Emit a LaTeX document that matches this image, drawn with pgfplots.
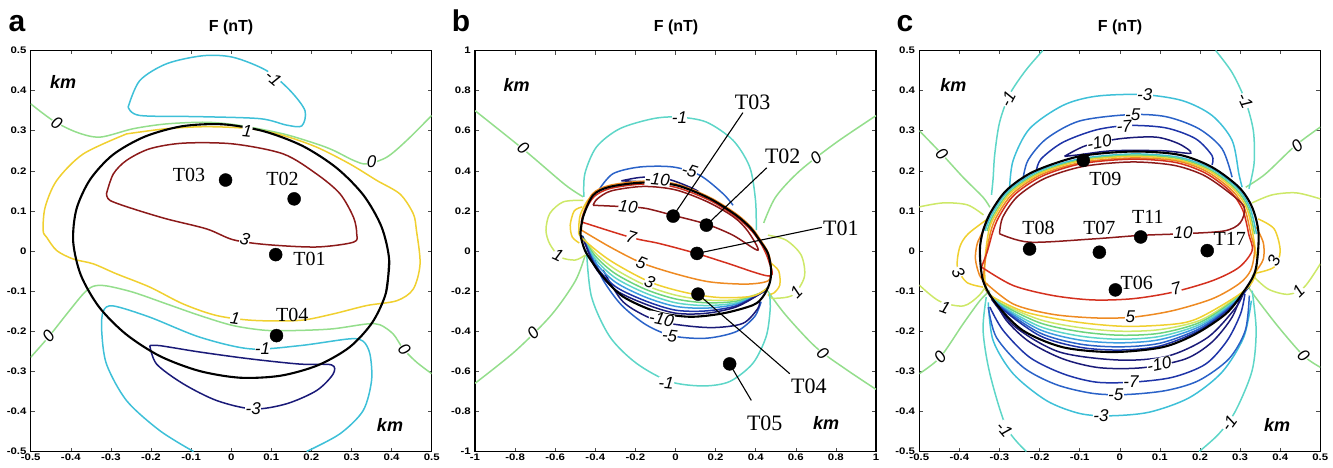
\documentclass[border=0pt]{standalone}
\usepackage{pgfplots}
\pgfplotsset{compat=1.18}
\usepackage{fontspec}
\setmainfont{Liberation Serif}
\setsansfont{Liberation Sans}
\definecolor{cnavy}{HTML}{1A1A78}
\definecolor{cblue}{HTML}{2A62C8}
\definecolor{cmblue}{HTML}{1E34A8}
\definecolor{clblue}{HTML}{3C9CE0}
\definecolor{ccyan}{HTML}{3EC0D8}
\definecolor{cteal}{HTML}{5ED6C8}
\definecolor{cgreen}{HTML}{94DE8C}
\definecolor{cmgreen}{HTML}{6CD47C}
\definecolor{cyg}{HTML}{CDE868}
\definecolor{cyellow}{HTML}{F0D030}
\definecolor{corange}{HTML}{EE8A22}
\definecolor{cred}{HTML}{D4301E}
\definecolor{cdred}{HTML}{8C1A1A}
\pgfplotsset{
  panel/.style={scale only axis, width=401pt, height=401pt, anchor=south west,
    axis line style={line width=1.4pt}, tick align=inside, major tick length=4pt,
    tick style={black!70, line width=0.6pt},
    tick label style={font=\fontsize{9.5}{10}\selectfont\sffamily\bfseries, xscale=1.2},
    xticklabel style={yshift=1pt}},
  cl/.style={line width=1.5pt, smooth},
  bl/.style={line width=2.1pt, smooth, black},
  dot/.style={only marks, mark=*, mark size=6.5pt, black},
  lead/.style={line width=1.1pt, black},
}
\newcommand{\clab}[4][0]{\node[font=\fontsize{17}{17}\selectfont\sffamily\itshape, fill=white, inner sep=0.3pt, rotate=#1] at (axis cs:#2,#3) {#4};}
\newcommand{\tlab}[4][20]{\node[font=\fontsize{#1}{#1}\selectfont\rmfamily] at (axis cs:#2,#3) {#4};}
\newcommand{\km}[2]{\node[font=\fontsize{18}{18}\selectfont\sffamily\bfseries\itshape] at (axis cs:#1,#2) {km};}
\begin{document}
\begin{tikzpicture}
\useasboundingbox (0,0) rectangle (1333pt,467pt);
% ===================== panel a =====================
\begin{axis}[panel, at={(30.7pt,15.5pt)}, xmin=-0.5, xmax=0.5, ymin=-0.5, ymax=0.5,
  xtick={-0.5,-0.4,-0.3,-0.2,-0.1,0,0.1,0.2,0.3,0.4,0.5},
  ytick={-0.5,-0.4,-0.3,-0.2,-0.1,0,0.1,0.2,0.3,0.4,0.5},
  xticklabels={-0.5,-0.4,-0.3,-0.2,-0.1,0,0.1,0.2,0.3,0.4,0.5},
  yticklabels={-0.5,-0.4,-0.3,-0.2,-0.1,0,0.1,0.2,0.3,0.4,0.5}]
% -1 top loop
\addplot[cl, ccyan] coordinates {(-0.257,0.359) (-0.228,0.425) (-0.161,0.467) (-0.070,0.487) (0.005,0.483) (0.088,0.450) (0.147,0.400) (0.184,0.350) (0.176,0.312) (0.138,0.314) (0.072,0.330) (-0.078,0.335) (-0.228,0.338) (-0.257,0.359)};
% 0 top
\addplot[cl, cgreen] coordinates {(-0.5,0.367) (-0.444,0.325) (-0.385,0.296) (-0.327,0.284) (-0.244,0.305) (-0.161,0.317) (-0.061,0.321) (0.022,0.313) (0.130,0.292) (0.213,0.267) (0.255,0.251) (0.305,0.226) (0.338,0.217) (0.388,0.234) (0.438,0.276) (0.5,0.338)};
% 1 loop
\addplot[cl, cyellow] coordinates {(-0.261,0.292) (-0.369,0.242) (-0.435,0.176) (-0.464,0.109) (-0.469,0.051) (-0.460,0.034) (-0.435,0.001) (-0.394,-0.020) (-0.344,-0.032) (-0.286,-0.057) (-0.203,-0.090) (-0.120,-0.132) (-0.036,-0.161) (0.055,-0.173) (0.171,-0.173) (0.254,-0.157) (0.338,-0.136) (0.413,-0.124) (0.454,-0.095) (0.471,-0.032) (0.462,0.051) (0.454,0.093) (0.421,0.142) (0.363,0.176) (0.296,0.217) (0.213,0.259) (0.130,0.288) (0.047,0.305) (-0.061,0.310) (-0.161,0.305) (-0.261,0.292)};
% 3 loop
\addplot[cl, cdred] coordinates {(-0.311,0.143) (-0.294,0.192) (-0.261,0.226) (-0.203,0.255) (-0.119,0.269) (0.005,0.267) (0.130,0.242) (0.213,0.192) (0.271,0.143) (0.305,0.084) (0.313,0.043) (0.305,0.022) (0.213,0.010) (0.088,0.016) (0.005,0.028) (-0.061,0.055) (-0.161,0.080) (-0.244,0.105) (-0.302,0.126) (-0.311,0.143)};
% 0 lower
\addplot[cl, cgreen] coordinates {(-0.5,-0.265) (-0.456,-0.215) (-0.410,-0.157) (-0.369,-0.107) (-0.344,-0.088) (-0.311,-0.087) (-0.244,-0.103) (-0.161,-0.132) (-0.078,-0.161) (0.005,-0.186) (0.088,-0.198) (0.171,-0.198) (0.254,-0.194) (0.338,-0.182) (0.371,-0.184) (0.404,-0.207) (0.429,-0.244) (0.462,-0.277) (0.5,-0.306)};
% -1 lower
\addplot[cl, ccyan] coordinates {(-0.094,-0.5) (-0.178,-0.448) (-0.261,-0.373) (-0.311,-0.282) (-0.323,-0.198) (-0.319,-0.150) (-0.294,-0.137) (-0.203,-0.165) (-0.078,-0.215) (0.047,-0.244) (0.171,-0.236) (0.296,-0.219) (0.329,-0.225) (0.346,-0.257) (0.350,-0.323) (0.329,-0.398) (0.271,-0.456) (0.188,-0.5)};
% -3 loop
\addplot[cl, cnavy] coordinates {(-0.203,-0.236) (-0.186,-0.282) (-0.120,-0.331) (-0.036,-0.373) (0.055,-0.394) (0.138,-0.381) (0.213,-0.348) (0.254,-0.307) (0.250,-0.284) (0.171,-0.282) (0.047,-0.269) (-0.078,-0.252) (-0.178,-0.236) (-0.203,-0.236)};
% body outline
\addplot[bl] coordinates {(0.386,-0.104) (0.394,-0.023) (0.375,0.060) (0.330,0.139) (0.263,0.207) (0.178,0.262) (0.080,0.299) (-0.022,0.316) (-0.123,0.311) (-0.216,0.285) (-0.295,0.240) (-0.352,0.178) (-0.386,0.104) (-0.394,0.023) (-0.375,-0.060) (-0.330,-0.139) (-0.263,-0.207) (-0.178,-0.262) (-0.080,-0.299) (0.022,-0.316) (0.123,-0.311) (0.216,-0.285) (0.295,-0.240) (0.352,-0.178) (0.386,-0.104) (0.394,-0.023)};
\addplot[dot] coordinates {(-0.014,0.177) (0.157,0.130) (0.111,-0.009) (0.113,-0.211)};
\clab[-40]{0.105}{0.432}{-1}
\clab[-32]{-0.435}{0.320}{0}
\clab[-6]{0.040}{0.300}{1}
\clab{0.350}{0.222}{0}
\clab[-15]{0.034}{0.030}{3}
\clab[50]{-0.456}{-0.212}{0}
\clab[-8]{0.010}{-0.167}{1}
\clab{0.078}{-0.244}{-1}
\clab[-50]{0.432}{-0.245}{0}
\clab{0.055}{-0.393}{-3}
\tlab{-0.105}{0.190}{T03}
\tlab{0.128}{0.180}{T02}
\tlab{0.195}{-0.020}{T01}
\tlab{0.152}{-0.160}{T04}
\km{-0.419}{0.421}
\km{0.396}{-0.435}
\end{axis}
% ===================== panel b =====================
\begin{axis}[panel, at={(475pt,15.5pt)}, xmin=-1, xmax=1, ymin=-1, ymax=1,
  xtick={-1,-0.8,-0.6,-0.4,-0.2,0,0.2,0.4,0.6,0.8,1},
  ytick={-1,-0.8,-0.6,-0.4,-0.2,0,0.2,0.4,0.6,0.8,1},
  xticklabels={-1,-0.8,-0.6,-0.4,-0.2,0,0.2,0.4,0.6,0.8,1},
  yticklabels={-1,-0.8,-0.6,-0.4,-0.2,0,0.2,0.4,0.6,0.8,1}]
% 0 lines
\addplot[cl, cgreen] coordinates {(-1,0.70) (-0.75,0.50) (-0.55,0.33) (-0.46,0.27)};
\addplot[cl, cgreen] coordinates {(1,0.675) (0.80,0.54) (0.62,0.40) (0.50,0.27) (0.44,0.14)};
\addplot[cl, cgreen] coordinates {(-1,-0.66) (-0.80,-0.50) (-0.62,-0.32) (-0.50,-0.15) (-0.45,-0.02)};
\addplot[cl, cgreen] coordinates {(0.46,-0.20) (0.55,-0.32) (0.70,-0.48) (0.85,-0.59) (1,-0.69)};
% 1 lobes
\addplot[cl, cyg] coordinates {(-0.460,0.253) (-0.560,0.245) (-0.627,0.187) (-0.646,0.104) (-0.627,0.035) (-0.575,-0.030) (-0.50,-0.045) (-0.45,-0.020)};
\addplot[cl, cyg] coordinates {(0.461,0.079) (0.552,0.054) (0.627,-0.021) (0.643,-0.128) (0.585,-0.220) (0.486,-0.236) (0.465,-0.220)};
\addplot[cl, cyellow] coordinates {(-0.465,0.22) (-0.505,0.20) (-0.525,0.13) (-0.515,0.07) (-0.48,0.04)};
\addplot[cl, cyellow] coordinates {(0.475,-0.06) (0.515,-0.10) (0.52,-0.17) (0.49,-0.21) (0.46,-0.22)};
% -1
\addplot[cl, cteal] coordinates {(-0.457,0.270) (-0.452,0.386) (-0.394,0.519) (-0.278,0.610) (-0.112,0.660) (0.013,0.668) (0.154,0.643) (0.287,0.552) (0.370,0.419) (0.399,0.253) (0.403,0.104)};
\addplot[cl, cteal] coordinates {(-0.444,0.004) (-0.419,-0.228) (-0.328,-0.427) (-0.195,-0.560) (-0.029,-0.651) (0.137,-0.673) (0.270,-0.651) (0.386,-0.560) (0.452,-0.427) (0.472,-0.294) (0.469,-0.211)};
% -5
\addplot[cl, cblue] coordinates {(-0.378,0.311) (-0.311,0.386) (-0.178,0.419) (-0.012,0.419) (0.121,0.378) (0.237,0.286) (0.287,0.228)};
\addplot[cl, cblue] coordinates {(-0.402,-0.045) (-0.361,-0.145) (-0.270,-0.269) (-0.145,-0.369) (-0.012,-0.424) (0.154,-0.435) (0.303,-0.402) (0.394,-0.328) (0.427,-0.253)};
% -10
\addplot[cl, cnavy] coordinates {(-0.270,0.350) (-0.162,0.368) (-0.029,0.356) (0.104,0.303) (-0.029,0.338) (-0.162,0.345) (-0.270,0.350)};
\addplot[cl, cnavy] coordinates {(-0.361,-0.095) (-0.262,-0.253) (-0.112,-0.341) (0.021,-0.369) (0.187,-0.382) (0.336,-0.361) (0.411,-0.286) (0.419,-0.245)};
% interior band
\addplot[cl, cyg] coordinates {(-0.465,0.075) (-0.40,-0.010) (-0.30,-0.091) (-0.15,-0.171) (0,-0.220) (0.15,-0.244) (0.30,-0.243) (0.42,-0.211) (0.46,-0.185)};
\addplot[cl, cmgreen] coordinates {(-0.465,0.075) (-0.40,-0.025) (-0.30,-0.113) (-0.15,-0.191) (0,-0.239) (0.15,-0.258) (0.30,-0.251) (0.42,-0.212) (0.46,-0.185)};
\addplot[cl, cteal] coordinates {(-0.465,0.075) (-0.40,-0.040) (-0.30,-0.134) (-0.15,-0.210) (0,-0.258) (0.15,-0.272) (0.30,-0.259) (0.42,-0.213) (0.46,-0.185)};
\addplot[cl, clblue] coordinates {(-0.465,0.075) (-0.40,-0.055) (-0.30,-0.155) (-0.15,-0.230) (0,-0.276) (0.15,-0.285) (0.30,-0.266) (0.42,-0.213) (0.46,-0.185)};
\addplot[cl, cmblue] coordinates {(-0.465,0.075) (-0.40,-0.070) (-0.30,-0.177) (-0.15,-0.249) (0,-0.295) (0.15,-0.299) (0.30,-0.274) (0.42,-0.214) (0.46,-0.185)};
\addplot[cl, cnavy] coordinates {(-0.465,0.075) (-0.40,-0.082) (-0.30,-0.194) (-0.15,-0.265) (0,-0.310) (0.15,-0.311) (0.30,-0.280) (0.42,-0.215) (0.46,-0.185)};
% 3
\addplot[cl, cyellow] coordinates {(-0.40,0.29) (-0.44,0.25) (-0.475,0.18) (-0.482,0.11) (-0.469,0.067) (-0.328,-0.046) (-0.129,-0.154) (0.054,-0.208) (0.220,-0.232) (0.386,-0.225) (0.461,-0.182)};
% 5
\addplot[cl, corange] coordinates {(-0.469,0.104) (-0.328,0.021) (-0.170,-0.059) (0.004,-0.115) (0.170,-0.154) (0.353,-0.165) (0.461,-0.149) (0.478,-0.095) (0.464,-0.012) (0.422,0.058) (0.380,0.116) (0.306,0.183) (0.172,0.267) (0.004,0.334) (-0.162,0.348) (-0.330,0.327) (-0.415,0.284) (-0.464,0.175) (-0.469,0.104)};
% 7
\addplot[cl, cred] coordinates {(-0.469,0.145) (-0.220,0.067) (-0.079,0.037) (0.104,-0.012) (0.253,-0.059) (0.469,-0.125) (0.465,-0.05) (0.43,0.03) (0.38,0.10) (0.30,0.172) (0.17,0.253) (0.0,0.318) (-0.16,0.334) (-0.325,0.312) (-0.405,0.272) (-0.452,0.20) (-0.469,0.145)};
% 10
\addplot[cl, cdred] coordinates {(-0.411,0.228) (-0.236,0.220) (-0.145,0.212) (-0.012,0.178) (0.154,0.134) (0.286,0.079) (0.411,0.004) (0.36,0.10) (0.29,0.17) (0.16,0.245) (0.0,0.305) (-0.16,0.322) (-0.32,0.30) (-0.39,0.26) (-0.411,0.228)};
% body outline
\addplot[bl] coordinates {(-0.474,0.087) (-0.461,0.170) (-0.411,0.278) (-0.328,0.320) (-0.162,0.341) (0.004,0.328) (0.170,0.262) (0.303,0.178) (0.377,0.112) (0.419,0.054) (0.461,-0.012) (0.477,-0.095) (0.469,-0.162) (0.436,-0.228) (0.386,-0.270) (0.237,-0.311) (0.071,-0.328) (-0.095,-0.303) (-0.261,-0.228) (-0.361,-0.129) (-0.411,-0.062) (-0.452,0.004) (-0.474,0.087) (-0.461,0.170)};
% leaders
\addplot[lead] coordinates {(-0.012,0.174) (0.336,0.690)};
\addplot[lead] coordinates {(0.154,0.129) (0.455,0.415)};
\addplot[lead] coordinates {(0.107,-0.012) (0.730,0.118)};
\addplot[lead] coordinates {(0.112,-0.215) (0.570,-0.612)};
\addplot[lead] coordinates {(0.270,-0.563) (0.378,-0.745)};
\addplot[dot] coordinates {(-0.012,0.174) (0.154,0.129) (0.107,-0.012) (0.112,-0.215) (0.270,-0.563)};
\clab[-39]{-0.76}{0.515}{0}
\clab[39]{0.70}{0.465}{0}
\clab[45]{-0.71}{-0.41}{0}
\clab[-42]{0.735}{-0.51}{0}
\clab{0.02}{0.666}{-1}
\clab[-17]{0.07}{0.40}{-5}
\clab[-5]{-0.09}{0.356}{-10}
\clab[-6]{-0.236}{0.220}{10}
\clab[-16]{-0.22}{0.068}{7}
\clab[-22]{-0.17}{-0.057}{5}
\clab[-23]{-0.129}{-0.152}{3}
\clab[-25]{-0.585}{-0.020}{1}
\clab[45]{0.602}{-0.203}{1}
\clab[-12]{-0.07}{-0.340}{-10}
\clab[-6]{-0.029}{-0.422}{-5}
\clab[-5]{-0.046}{-0.660}{-1}
\tlab[22]{0.385}{0.740}{T03}
\tlab[22]{0.535}{0.470}{T02}
\tlab[22]{0.825}{0.112}{T01}
\tlab[22]{0.665}{-0.676}{T04}
\tlab[22]{0.445}{-0.860}{T05}
\km{-0.793}{0.826}
\km{0.751}{-0.859}
\end{axis}
% ===================== panel c =====================
\begin{axis}[panel, at={(919.3pt,15.5pt)}, xmin=-0.5, xmax=0.5, ymin=-0.5, ymax=0.5,
  xtick={-0.5,-0.4,-0.3,-0.2,-0.1,0,0.1,0.2,0.3,0.4,0.5},
  ytick={-0.5,-0.4,-0.3,-0.2,-0.1,0,0.1,0.2,0.3,0.4,0.5},
  xticklabels={-0.5,-0.4,-0.3,-0.2,-0.1,0,0.1,0.2,0.3,0.4,0.5},
  yticklabels={-0.5,-0.4,-0.3,-0.2,-0.1,0,0.1,0.2,0.3,0.4,0.5}]
% 0
\addplot[cl, cgreen] coordinates {(-0.5,0.300) (-0.444,0.242) (-0.391,0.184) (-0.341,0.134) (-0.324,0.109)};
\addplot[cl, cgreen] coordinates {(0.5,0.309) (0.438,0.263) (0.363,0.192) (0.314,0.159)};
\addplot[cl, cgreen] coordinates {(-0.5,-0.306) (-0.448,-0.265) (-0.391,-0.182) (-0.349,-0.124) (-0.324,-0.099)};
\addplot[cl, cgreen] coordinates {(0.5,-0.290) (0.458,-0.261) (0.396,-0.190) (0.338,-0.115) (0.321,-0.090)};
% 1
\addplot[cl, cyg] coordinates {(-0.5,0.11) (-0.44,0.12) (-0.38,0.115) (-0.34,0.09)};
\addplot[cl, cyg] coordinates {(-0.5,-0.085) (-0.45,-0.125) (-0.39,-0.137) (-0.35,-0.11) (-0.33,-0.08)};
\addplot[cl, cyg] coordinates {(0.5,-0.032) (0.46,-0.09) (0.42,-0.108) (0.37,-0.095) (0.33,-0.06)};
\addplot[cl, cyg] coordinates {(0.5,0.13) (0.44,0.145) (0.38,0.14) (0.33,0.12)};
% 3 and 5 lobes
\addplot[cl, cyellow] coordinates {(-0.324,0.084) (-0.378,0.043) (-0.399,0.010) (-0.405,-0.040) (-0.382,-0.078) (-0.341,-0.090)};
\addplot[cl, cyellow] coordinates {(0.345,0.08) (0.385,0.055) (0.400,0.0) (0.385,-0.040) (0.340,-0.055)};
\addplot[cl, corange] coordinates {(-0.335,0.06) (-0.355,0.02) (-0.36,-0.02) (-0.35,-0.06) (-0.335,-0.08)};
\addplot[cl, corange] coordinates {(0.34,0.06) (0.358,0.02) (0.358,-0.02) (0.34,-0.05)};
% -1
\addplot[cl, cteal] coordinates {(-0.192,0.5) (-0.235,0.45) (-0.275,0.39) (-0.300,0.32) (-0.312,0.24) (-0.316,0.18) (-0.320,0.14)};
\addplot[cl, cteal] coordinates {(0.239,0.5) (0.28,0.445) (0.313,0.375) (0.333,0.30) (0.335,0.22) (0.322,0.155)};
\addplot[cl, cteal] coordinates {(-0.333,-0.115) (-0.341,-0.198) (-0.324,-0.306) (-0.283,-0.439) (-0.233,-0.5)};
\addplot[cl, cteal] coordinates {(0.330,-0.099) (0.340,-0.198) (0.330,-0.298) (0.289,-0.398) (0.247,-0.456) (0.198,-0.5)};
% -3
\addplot[cl, ccyan] coordinates {(-0.275,0.155) (-0.266,0.226) (-0.225,0.305) (-0.142,0.363) (-0.059,0.386) (0.057,0.390) (0.156,0.375) (0.230,0.338) (0.280,0.276) (0.297,0.192) (0.305,0.159)};
\addplot[cl, ccyan] coordinates {(-0.328,-0.128) (-0.316,-0.223) (-0.266,-0.306) (-0.183,-0.373) (-0.101,-0.405) (-0.026,-0.411) (0.073,-0.402) (0.173,-0.366) (0.255,-0.302) (0.309,-0.215) (0.328,-0.124)};
% -5
\addplot[cl, cblue] coordinates {(-0.242,0.176) (-0.229,0.226) (-0.183,0.280) (-0.101,0.324) (0.023,0.340) (0.115,0.335) (0.197,0.305) (0.255,0.255) (0.280,0.184)};
\addplot[cl, cblue] coordinates {(-0.328,-0.140) (-0.308,-0.215) (-0.241,-0.290) (-0.159,-0.333) (-0.068,-0.355) (0.015,-0.358) (0.115,-0.348) (0.197,-0.323) (0.272,-0.269) (0.313,-0.198) (0.323,-0.111)};
% -7
\addplot[cl, cmblue] coordinates {(-0.208,0.201) (-0.196,0.230) (-0.142,0.271) (-0.059,0.302) (0.023,0.313) (0.115,0.307) (0.189,0.280) (0.230,0.238) (0.230,0.215)};
\addplot[cl, cmblue] coordinates {(-0.324,-0.140) (-0.291,-0.198) (-0.225,-0.265) (-0.142,-0.306) (-0.059,-0.327) (0.032,-0.327) (0.131,-0.315) (0.214,-0.282) (0.268,-0.223) (0.301,-0.157) (0.312,-0.107)};
% -10
\addplot[cl, cnavy] coordinates {(-0.138,0.236) (-0.084,0.263) (0.0,0.280) (0.090,0.284) (0.148,0.267) (0.177,0.244) (0.106,0.250) (-0.018,0.250) (-0.101,0.240) (-0.138,0.236)};
\addplot[cl, cnavy] coordinates {(-0.316,-0.115) (-0.283,-0.173) (-0.225,-0.227) (-0.142,-0.269) (-0.051,-0.291) (0.057,-0.291) (0.164,-0.269) (0.230,-0.227) (0.280,-0.165) (0.305,-0.103)};
\addplot[cl, cnavy] coordinates {(-0.32,-0.12) (-0.26,-0.19) (-0.15,-0.252) (0,-0.272) (0.12,-0.262) (0.22,-0.215) (0.29,-0.14) (0.31,-0.10)};
% interior band (bottom)
\addplot[cl, cyg] coordinates {(-0.335,-0.095) (-0.30,-0.128) (-0.20,-0.171) (-0.10,-0.191) (0,-0.200) (0.10,-0.196) (0.20,-0.173) (0.28,-0.124) (0.325,-0.085)};
\addplot[cl, cmgreen] coordinates {(-0.335,-0.095) (-0.30,-0.130) (-0.20,-0.179) (-0.10,-0.201) (0,-0.210) (0.10,-0.205) (0.20,-0.178) (0.28,-0.127) (0.325,-0.085)};
\addplot[cl, cteal] coordinates {(-0.335,-0.095) (-0.30,-0.133) (-0.20,-0.188) (-0.10,-0.212) (0,-0.220) (0.10,-0.213) (0.20,-0.183) (0.28,-0.130) (0.325,-0.085)};
\addplot[cl, clblue] coordinates {(-0.335,-0.095) (-0.30,-0.135) (-0.20,-0.196) (-0.10,-0.222) (0,-0.229) (0.10,-0.221) (0.20,-0.188) (0.28,-0.133) (0.325,-0.085)};
\addplot[cl, cblue] coordinates {(-0.335,-0.095) (-0.30,-0.137) (-0.20,-0.204) (-0.10,-0.232) (0,-0.239) (0.10,-0.230) (0.20,-0.193) (0.28,-0.136) (0.325,-0.085)};
\addplot[cl, cmblue] coordinates {(-0.335,-0.095) (-0.30,-0.139) (-0.20,-0.211) (-0.10,-0.240) (0,-0.247) (0.10,-0.237) (0.20,-0.197) (0.28,-0.138) (0.325,-0.085)};
% top rainbow edges
\addplot[cl, ccyan] coordinates {(-0.336,0.050) (-0.319,0.092) (-0.279,0.149) (-0.205,0.198) (-0.099,0.230) (0.032,0.242) (0.146,0.234) (0.227,0.206) (0.293,0.157) (0.325,0.107) (0.341,0.042)};
\addplot[cl, cmgreen] coordinates {(-0.331,0.050) (-0.315,0.090) (-0.275,0.147) (-0.202,0.195) (-0.098,0.227) (0.031,0.239) (0.144,0.231) (0.224,0.203) (0.289,0.155) (0.321,0.106) (0.336,0.042)};
% 3 loop
\addplot[cl, cyellow] coordinates {(-0.335,-0.095) (-0.316,-0.115) (-0.233,-0.153) (-0.109,-0.177) (0.015,-0.188) (0.139,-0.182) (0.197,-0.167) (0.28,-0.120) (0.325,-0.085) (0.342,-0.040) (0.332,0.041) (0.317,0.105) (0.285,0.153) (0.221,0.201) (0.142,0.228) (0.031,0.236) (-0.097,0.225) (-0.200,0.193) (-0.272,0.145) (-0.311,0.089) (-0.327,0.049) (-0.337,-0.030) (-0.335,-0.095)};
% 5 loop
\addplot[cl, corange] coordinates {(-0.341,-0.074) (-0.266,-0.132) (-0.167,-0.158) (-0.059,-0.167) (0.032,-0.165) (0.131,-0.149) (0.231,-0.119) (0.297,-0.082) (0.326,-0.049) (0.336,0.0) (0.327,0.041) (0.312,0.103) (0.281,0.150) (0.217,0.198) (0.140,0.225) (0.030,0.232) (-0.095,0.221) (-0.197,0.190) (-0.267,0.143) (-0.306,0.088) (-0.322,0.048) (-0.335,-0.020) (-0.341,-0.074)};
% 7 loop
\addplot[cl, cred] coordinates {(-0.345,-0.040) (-0.266,-0.086) (-0.167,-0.111) (-0.068,-0.122) (0.032,-0.119) (0.131,-0.103) (0.231,-0.074) (0.297,-0.041) (0.330,0.001) (0.322,0.040) (0.307,0.101) (0.276,0.148) (0.214,0.194) (0.138,0.221) (0.030,0.229) (-0.094,0.218) (-0.193,0.187) (-0.263,0.140) (-0.301,0.086) (-0.317,0.047) (-0.330,0.0) (-0.345,-0.040)};
% 10 loop
\addplot[cl, cdred] coordinates {(-0.300,0.043) (-0.225,0.022) (-0.068,0.030) (0.052,0.039) (0.156,0.043) (0.26,0.05) (0.30,0.07) (0.31,0.11) (0.267,0.150) (0.207,0.190) (0.133,0.214) (0.029,0.222) (-0.091,0.211) (-0.187,0.181) (-0.255,0.136) (-0.292,0.084) (-0.300,0.043)};
% body outline
\addplot[bl] coordinates {(-0.341,0.051) (-0.324,0.093) (-0.283,0.151) (-0.215,0.198) (-0.101,0.236) (0.032,0.248) (0.148,0.240) (0.230,0.209) (0.297,0.159) (0.330,0.109) (0.346,0.043) (0.338,-0.049) (0.305,-0.107) (0.264,-0.157) (0.189,-0.207) (0.106,-0.240) (-0.018,-0.252) (-0.142,-0.240) (-0.242,-0.198) (-0.308,-0.132) (-0.341,-0.074) (-0.349,0.001) (-0.341,0.051) (-0.324,0.093)};
\addplot[dot] coordinates {(-0.091,0.226) (-0.225,0.005) (-0.051,-0.003) (0.052,0.035) (0.218,0.001) (-0.011,-0.097)};
\clab[62]{-0.279}{0.379}{-1}
\clab[-65]{0.313}{0.375}{-1}
\clab{0.062}{0.389}{-3}
\clab{0.032}{0.340}{-5}
\clab[4]{0.011}{0.311}{-7}
\clab[11]{-0.051}{0.271}{-10}
\clab[-47]{-0.444}{0.242}{0}
\clab[40]{0.442}{0.263}{0}
\clab[49]{-0.448}{-0.265}{0}
\clab[-44]{0.458}{-0.261}{0}
\clab{0.158}{0.045}{10}
\clab[-60]{-0.403}{-0.053}{3}
\clab[65]{0.384}{-0.024}{3}
\clab[-20]{-0.436}{-0.140}{1}
\clab[45]{0.446}{-0.099}{1}
\clab[16]{0.140}{-0.094}{7}
\clab{0.026}{-0.165}{5}
\clab[12]{0.098}{-0.282}{-10}
\clab{0.028}{-0.327}{-7}
\clab{-0.010}{-0.358}{-5}
\clab{-0.047}{-0.411}{-3}
\clab[-50]{-0.288}{-0.445}{-1}
\clab[54]{0.272}{-0.430}{-1}
\tlab{-0.036}{0.180}{T09}
\tlab{-0.203}{0.057}{T08}
\tlab{-0.051}{0.057}{T07}
\tlab{0.070}{0.085}{T11}
\tlab{0.274}{0.030}{T17}
\tlab{0.042}{-0.080}{T06}
\km{-0.415}{0.413}
\km{0.392}{-0.435}
\end{axis}
% titles
\node[font=\fontsize{30}{30}\selectfont\sffamily\bfseries, anchor=base] at (17pt,435pt) {a};
\node[font=\fontsize{30}{30}\selectfont\sffamily\bfseries, anchor=base] at (461pt,435pt) {b};
\node[font=\fontsize{30}{30}\selectfont\sffamily\bfseries, anchor=base] at (905pt,435pt) {c};
\node[font=\fontsize{16}{16}\selectfont\sffamily\bfseries, anchor=base] at (231pt,435pt) {F (nT)};
\node[font=\fontsize{16}{16}\selectfont\sffamily\bfseries, anchor=base] at (676pt,435pt) {F (nT)};
\node[font=\fontsize{16}{16}\selectfont\sffamily\bfseries, anchor=base] at (1120pt,435pt) {F (nT)};
\end{tikzpicture}
\end{document}
